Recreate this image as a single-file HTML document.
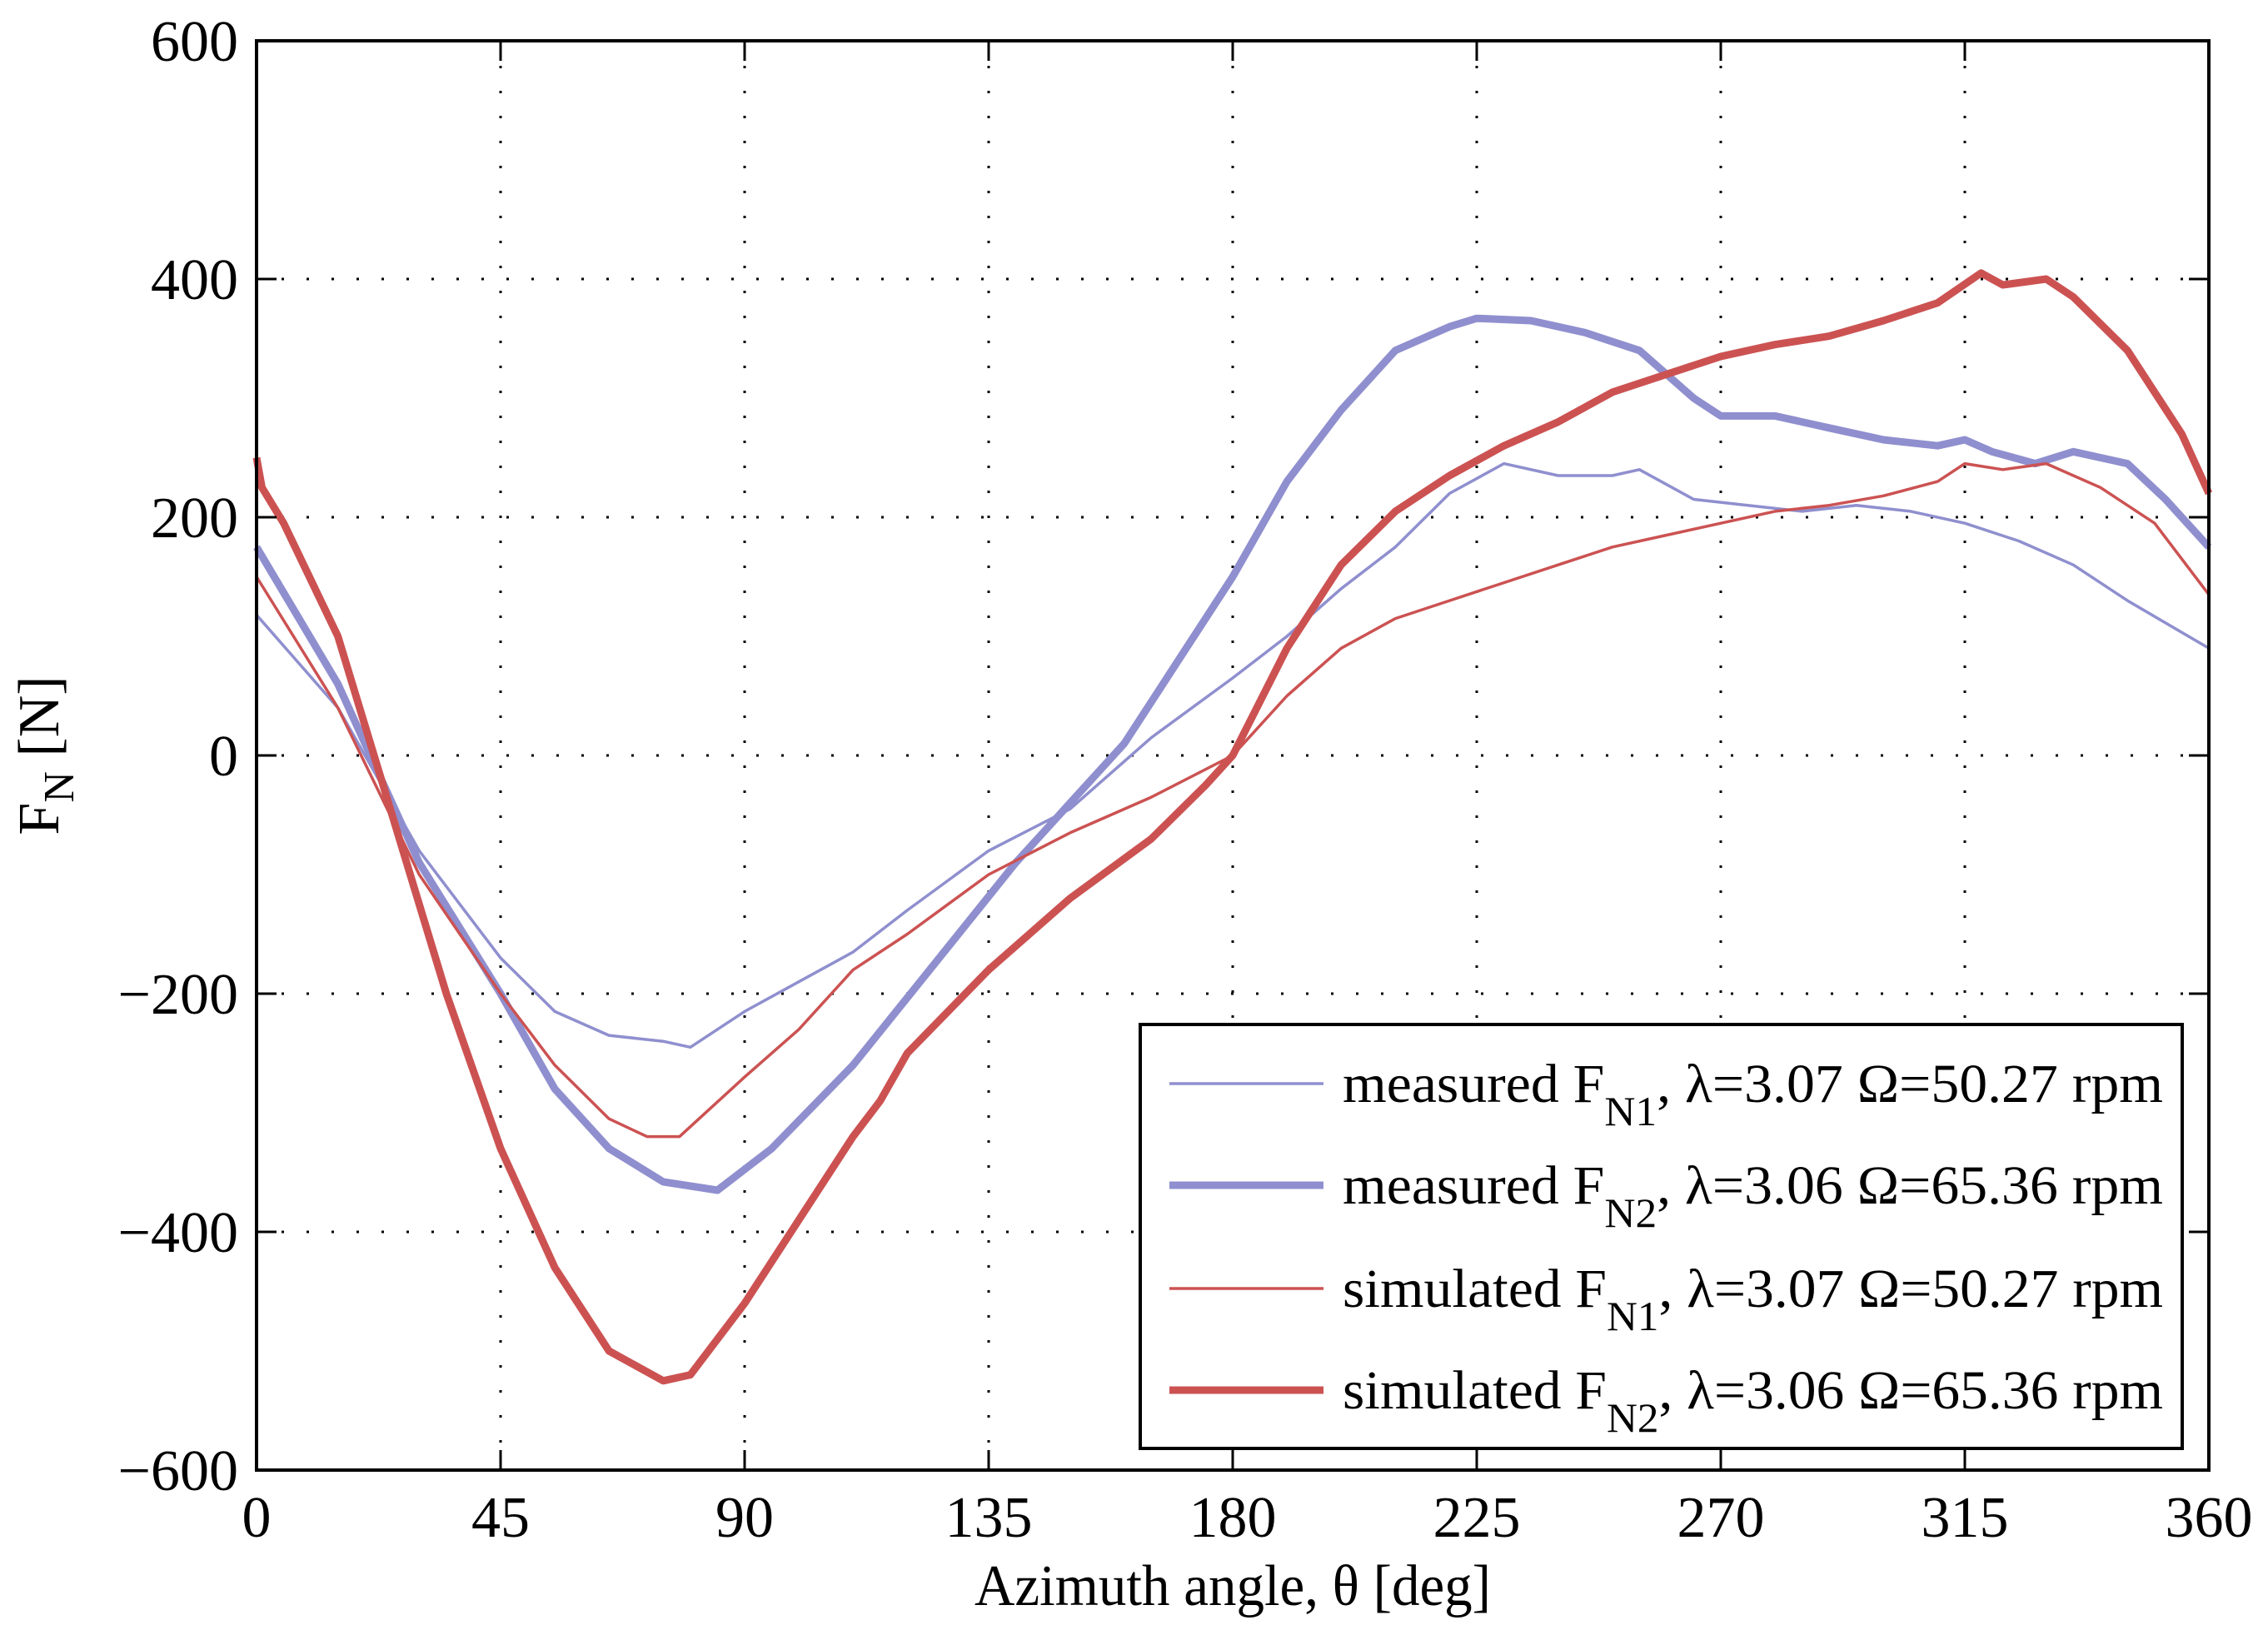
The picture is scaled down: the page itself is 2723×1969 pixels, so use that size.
<!DOCTYPE html>
<html><head><meta charset="utf-8"><style>
html,body{margin:0;padding:0;background:#fff;}
svg text{font-family:"Liberation Serif",serif;fill:#000;}
</style></head><body>
<svg id="chart" width="2723" height="1964" viewBox="0 0 2723 1964" xmlns="http://www.w3.org/2000/svg">
<rect width="2723" height="1964" fill="#fff"/>
<g id="grid"></g>
<g id="series"></g>
<g id="axes"></g>
<text x="1480" y="1927" font-size="70" text-anchor="middle" textLength="620" lengthAdjust="spacingAndGlyphs">Azimuth angle, θ [deg]</text>
<text transform="translate(70,907) rotate(-90)" font-size="70" text-anchor="middle">F<tspan font-size="52" dy="18">N</tspan><tspan dy="-18"> [N]</tspan></text>
<g id="legend"></g>
</svg>
<script>
const xTicks=[0,45,90,135,180,225,270,315,360];
const yTicks=[-600,-400,-200,0,200,400,600];
const mN1x=[0,15,30,45,55,65,75,80,90,100,110,120,135,150,165,180,190,200,210,220,230,240,250,255,265,275,285,295,305,315,325,335,345,360];
const mN1y=[118,40,-80,-170,-215,-235,-240,-245,-215,-190,-165,-130,-80,-45,15,65,100,140,175,220,245,235,235,240,215,210,205,210,205,195,180,160,130,90];
const mN2x=[0,15,30,45,55,65,75,85,95,110,125,140,150,160,170,180,190,200,210,220,225,235,245,255,265,270,280,290,300,310,315,320,328,335,345,352,360];
const mN2y=[175,60,-90,-200,-280,-330,-358,-365,-330,-260,-175,-90,-40,10,80,150,230,290,340,360,367,365,355,340,300,285,285,275,265,260,265,255,245,255,245,215,175];
const sN1x=[0,15,30,45,55,65,72,78,90,100,110,120,135,150,165,180,190,200,210,220,230,240,250,260,270,280,290,300,310,315,322,330,340,350,360];
const sN1y=[150,40,-100,-200,-260,-305,-320,-320,-270,-230,-180,-150,-100,-65,-35,0,50,90,115,130,145,160,175,185,195,205,210,218,230,245,240,245,225,195,135];
const sN2x=[0,1,5,15,25,35,45,55,65,75,80,90,100,110,115,120,135,150,165,175,180,190,200,210,220,230,240,250,260,270,280,290,300,310,318,322,330,335,345,355,360];
const sN2y=[250,225,195,100,-50,-200,-330,-430,-500,-525,-520,-460,-390,-320,-290,-250,-180,-120,-70,-25,0,90,160,205,235,260,280,305,320,335,345,352,365,380,405,395,400,385,340,270,220];
const L=308,R=2652,T=49,B=1765;
const sx=v=>L+(v-0)/(360)*(R-L);
const sy=v=>B-(v+600)/1200*(B-T);
const NS="http://www.w3.org/2000/svg";
function mk(tag,parent){const e=document.createElementNS(NS,tag);parent.appendChild(e);return e;}
const grid=document.getElementById('grid'),axes=document.getElementById('axes'),ser=document.getElementById('series'),leg=document.getElementById('legend');
xTicks.forEach(t=>{
  const x=sx(t);
  if(t>0&&t<360){const g=mk('line',grid);
  
  
  g.setAttribute('x1',x);g.setAttribute('x2',x);g.setAttribute('y1',T);g.setAttribute('y2',B);g.setAttribute('stroke','#000');g.setAttribute('stroke-width','3');g.setAttribute('stroke-dasharray','3 27');}
  [[B,B-24],[T,T+24]].forEach(p=>{const k=mk('line',axes);
  
  
  k.setAttribute('x1',x);k.setAttribute('x2',x);k.setAttribute('y1',p[0]);k.setAttribute('y2',p[1]);k.setAttribute('stroke','#000');k.setAttribute('stroke-width','3');});
  const tx=mk('text',axes);
  
  
  tx.setAttribute('x',x);tx.setAttribute('y',1845);tx.setAttribute('font-size','70');tx.setAttribute('text-anchor','middle');tx.textContent=t;
});
yTicks.forEach(t=>{
  const y=sy(t);
  if(t>-600&&t<600){const g=mk('line',grid);
  
  
  g.setAttribute('x1',L);g.setAttribute('x2',R);g.setAttribute('y1',y);g.setAttribute('y2',y);g.setAttribute('stroke','#000');g.setAttribute('stroke-width','3');g.setAttribute('stroke-dasharray','3 27');}
  [[L,L+24],[R,R-24]].forEach(p=>{const k=mk('line',axes);
  
  
  k.setAttribute('x1',p[0]);k.setAttribute('x2',p[1]);k.setAttribute('y1',y);k.setAttribute('y2',y);k.setAttribute('stroke','#000');k.setAttribute('stroke-width','3');});
  const tx=mk('text',axes);
  
  
  tx.setAttribute('x',286);tx.setAttribute('y',y+24);tx.setAttribute('font-size','70');tx.setAttribute('text-anchor','end');tx.textContent=(t<0?'\u2212'+(-t):t);
});
const fr=mk('rect',axes);


fr.setAttribute('x',L);fr.setAttribute('y',T);fr.setAttribute('width',R-L);fr.setAttribute('height',B-T);fr.setAttribute('fill','none');fr.setAttribute('stroke','#000');fr.setAttribute('stroke-width','4');
const BLUE='#8f8fcf',RED='#cc5252';
const series=[
 {xs:mN1x,ys:mN1y,c:BLUE,w:3.5,name:'measured-fn1-line',lab:['measured F','N1',', λ=3.07 Ω=50.27 rpm']},
 {xs:mN2x,ys:mN2y,c:BLUE,w:9,name:'measured-fn2-line',lab:['measured F','N2',', λ=3.06 Ω=65.36 rpm']},
 {xs:sN1x,ys:sN1y,c:RED,w:3.5,name:'simulated-fn1-line',lab:['simulated F','N1',', λ=3.07 Ω=50.27 rpm']},
 {xs:sN2x,ys:sN2y,c:RED,w:9,name:'simulated-fn2-line',lab:['simulated F','N2',', λ=3.06 Ω=65.36 rpm']}];
series.forEach(s=>{
  const p=mk('path',ser);
  
  
  p.setAttribute('d',s.xs.map((x,i)=>(i?'L':'M')+sx(x).toFixed(1)+','+sy(s.ys[i]).toFixed(1)).join(''));
  p.setAttribute('fill','none');p.setAttribute('stroke',s.c);p.setAttribute('stroke-width',s.w);p.setAttribute('stroke-linejoin','round');
});
const lb=mk('rect',leg);


lb.setAttribute('x',1369);lb.setAttribute('y',1230);lb.setAttribute('width',1251);lb.setAttribute('height',509);lb.setAttribute('fill','#fff');lb.setAttribute('stroke','#000');lb.setAttribute('stroke-width','4');
const rows=[1301,1423,1547,1669];
series.forEach((s,i)=>{
  const y=rows[i];
  const ln=mk('line',leg);
  
  
  ln.setAttribute('x1',1404);ln.setAttribute('x2',1589);ln.setAttribute('y1',y);ln.setAttribute('y2',y);ln.setAttribute('stroke',s.c);ln.setAttribute('stroke-width',s.w);
  const t=mk('text',leg);
  
  
  t.setAttribute('x',1612);t.setAttribute('y',y+22);t.setAttribute('font-size','66');
  t.setAttribute('textLength','985');t.setAttribute('lengthAdjust','spacingAndGlyphs');
  const a=mk('tspan',t);a.textContent=s.lab[0];
  const b=mk('tspan',t);b.setAttribute('dy','28');b.setAttribute('font-size','50');b.textContent=s.lab[1];
  const c=mk('tspan',t);c.setAttribute('dy','-28');c.textContent=s.lab[2];
});
</script>
</body></html>
